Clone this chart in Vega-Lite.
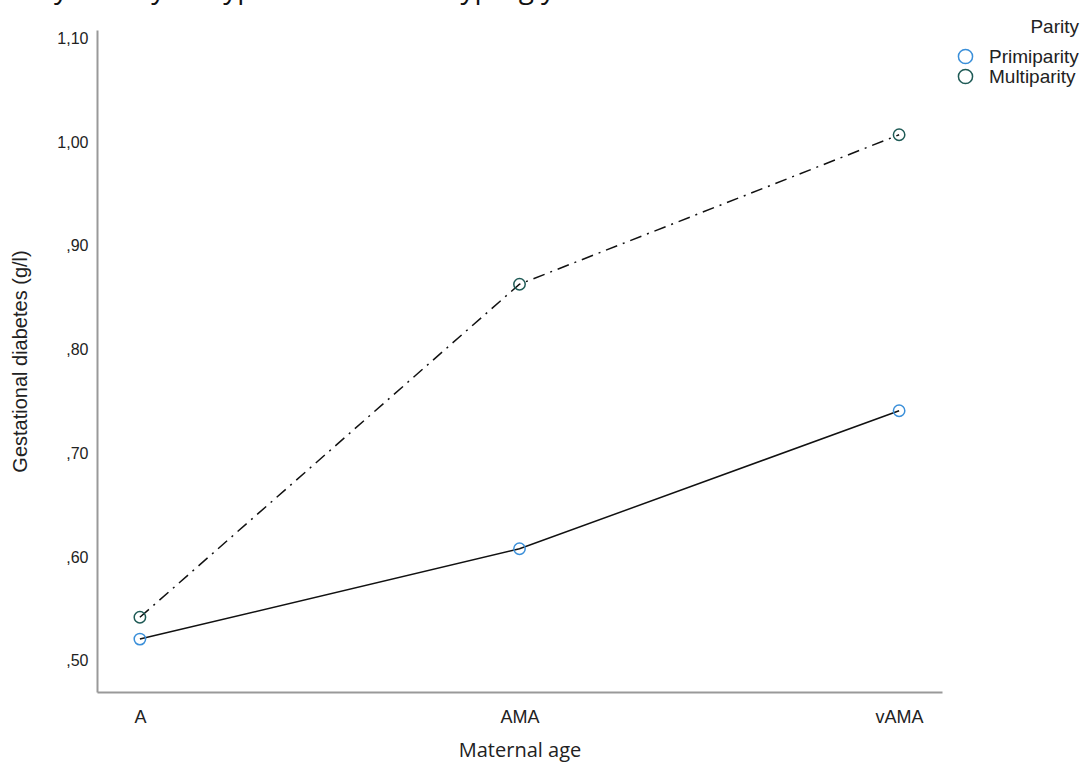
{
  "$schema": "https://vega.github.io/schema/vega-lite/v6.json",
  "width": 845,
  "height": 662,
  "autosize": "none",
  "padding": {"left": 97, "top": 30, "right": 148, "bottom": 81},
  "background": "white",
  "title": {
    "text": "Family history of hypertension and hyperglycemia.",
    "anchor": "start",
    "frame": "group",
    "font": "Open Sans",
    "fontSize": 28,
    "fontWeight": "normal",
    "color": "#111111",
    "baseline": "alphabetic",
    "offset": 0,
    "dx": -113,
    "dy": 8
  },
  "config": {
    "view": {"stroke": null},
    "axis": {"grid": false, "ticks": false, "domainColor": "#999999", "domainWidth": 2}
  },
  "data": {
    "values": [
      {"age": "A", "Parity": "Primiparity", "gd": 0.521},
      {"age": "AMA", "Parity": "Primiparity", "gd": 0.608},
      {"age": "vAMA", "Parity": "Primiparity", "gd": 0.741},
      {"age": "A", "Parity": "Multiparity", "gd": 0.542},
      {"age": "AMA", "Parity": "Multiparity", "gd": 0.863},
      {"age": "vAMA", "Parity": "Multiparity", "gd": 1.007}
    ]
  },
  "encoding": {
    "x": {
      "field": "age",
      "type": "ordinal",
      "sort": ["A", "AMA", "vAMA"],
      "scale": {"type": "point", "padding": 0.113},
      "axis": {
        "title": "Maternal age",
        "labelAngle": 0,
        "labelFont": "Liberation Sans",
        "labelFontSize": 18,
        "labelColor": "#222222",
        "labelPadding": 16,
        "titleFont": "Open Sans",
        "titleFontSize": 20,
        "titleFontWeight": "normal",
        "titleColor": "#222222",
        "titlePadding": 14
      }
    },
    "y": {
      "field": "gd",
      "type": "quantitative",
      "scale": {"domain": [0.47, 1.108], "nice": false, "zero": false},
      "axis": {
        "title": "Gestational diabetes (g/l)",
        "values": [0.5, 0.6, 0.7, 0.8, 0.9, 1.0, 1.1],
        "labelExpr": "datum.value < 0.999 ? replace(format(datum.value, '.2f'), '0.', ',') : replace(format(datum.value, '.2f'), '.', ',')",
        "labelFont": "Liberation Sans",
        "labelFontSize": 16,
        "labelColor": "#222222",
        "labelPadding": 9,
        "titleFont": "Liberation Sans",
        "titleFontSize": 20,
        "titleFontWeight": "normal",
        "titleColor": "#222222",
        "titleX": -77,
        "titleY": 331,
        "titleAngle": 270,
        "titleAlign": "center",
        "titleBaseline": "middle"
      }
    }
  },
  "layer": [
    {
      "transform": [{"filter": "datum.Parity === 'Primiparity'"}],
      "mark": {"type": "line", "color": "#111111", "strokeWidth": 1.5},
      "encoding": {}
    },
    {
      "transform": [{"filter": "datum.Parity === 'Multiparity'"}],
      "mark": {"type": "line", "color": "#111111", "strokeWidth": 1.5, "strokeDash": [12, 6, 2, 6]},
      "encoding": {}
    },
    {
      "mark": {"type": "point", "shape": "circle", "filled": false, "size": 130, "strokeWidth": 1.5, "opacity": 1},
      "encoding": {
        "color": {
          "field": "Parity",
          "type": "nominal",
          "scale": {"domain": ["Primiparity", "Multiparity"], "range": ["#3a8fd9", "#1e5a55"]},
          "legend": {
            "orient": "none",
            "legendX": 859,
            "legendY": -12,
            "title": "Parity",
            "titleFont": "Liberation Sans",
            "titleFontSize": 19,
            "titleFontWeight": "normal",
            "titleColor": "#222222",
            "titleAnchor": "end",
            "titlePadding": 10,
            "labelFont": "Liberation Sans",
            "labelFontSize": 19,
            "labelColor": "#222222",
            "symbolType": "circle",
            "symbolSize": 200,
            "symbolStrokeWidth": 1.5,
            "symbolFillColor": "transparent",
            "rowPadding": -1,
            "labelOffset": 14
          }
        }
      }
    }
  ]
}
